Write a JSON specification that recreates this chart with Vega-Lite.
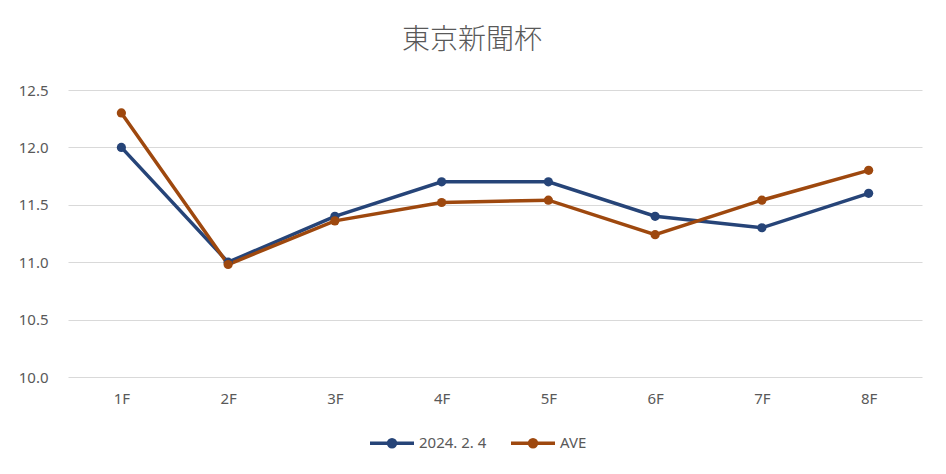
{
  "$schema": "https://vega.github.io/schema/vega-lite/v6.json",
  "width": 854,
  "height": 287,
  "autosize": {"type": "none"},
  "padding": {"left": 68, "top": 90, "right": 24, "bottom": 97},
  "background": "white",
  "title": {
    "text": "東京新聞杯",
    "font": "Noto Sans CJK JP",
    "fontSize": 28,
    "fontWeight": 300,
    "color": "#595959",
    "anchor": "middle",
    "dx": -23,
    "offset": 28
  },
  "config": {
    "view": {"stroke": null},
    "font": "Noto Sans"
  },
  "data": {
    "values": [
      {"race": "1F", "series": "2024. 2. 4", "time": 12.0},
      {"race": "2F", "series": "2024. 2. 4", "time": 11.0},
      {"race": "3F", "series": "2024. 2. 4", "time": 11.4},
      {"race": "4F", "series": "2024. 2. 4", "time": 11.7},
      {"race": "5F", "series": "2024. 2. 4", "time": 11.7},
      {"race": "6F", "series": "2024. 2. 4", "time": 11.4},
      {"race": "7F", "series": "2024. 2. 4", "time": 11.3},
      {"race": "8F", "series": "2024. 2. 4", "time": 11.6},
      {"race": "1F", "series": "AVE", "time": 12.3},
      {"race": "2F", "series": "AVE", "time": 10.98},
      {"race": "3F", "series": "AVE", "time": 11.36},
      {"race": "4F", "series": "AVE", "time": 11.52},
      {"race": "5F", "series": "AVE", "time": 11.54},
      {"race": "6F", "series": "AVE", "time": 11.24},
      {"race": "7F", "series": "AVE", "time": 11.54},
      {"race": "8F", "series": "AVE", "time": 11.8}
    ]
  },
  "encoding": {
    "x": {
      "field": "race",
      "type": "nominal",
      "sort": ["1F", "2F", "3F", "4F", "5F", "6F", "7F", "8F"],
      "scale": {"padding": 0.5},
      "axis": {
        "title": null,
        "labelAngle": 0,
        "domain": false,
        "ticks": false,
        "labelPadding": 14,
        "labelFontSize": 15,
        "labelColor": "#595959",
        "labelFont": "Noto Sans"
      }
    },
    "y": {
      "field": "time",
      "type": "quantitative",
      "scale": {"domain": [10, 12.5], "nice": false, "zero": false},
      "axis": {
        "title": null,
        "values": [10, 10.5, 11, 11.5, 12, 12.5],
        "format": ".1f",
        "domain": false,
        "ticks": false,
        "grid": true,
        "gridColor": "#d9d9d9",
        "gridWidth": 1,
        "labelPadding": 20,
        "labelFontSize": 15,
        "labelColor": "#595959",
        "labelFont": "Noto Sans"
      }
    },
    "color": {
      "field": "series",
      "type": "nominal",
      "scale": {"domain": ["2024. 2. 4", "AVE"], "range": ["#264478", "#9E480E"]},
      "legend": {
        "title": null,
        "orient": "none",
        "direction": "horizontal",
        "legendX": 300,
        "legendY": 329,
        "symbolType": "M-1,0L1,0M-0.16,0A0.16,0.16,0,1,1,0.16,0A0.16,0.16,0,1,1,-0.16,0Z",
        "symbolSize": 1936,
        "symbolStrokeWidth": 3.5,
        "labelFontSize": 15,
        "labelColor": "#595959",
        "labelFont": "Noto Sans",
        "labelOffset": 3,
        "columnPadding": 17
      }
    }
  },
  "layer": [
    {"mark": {"type": "line", "strokeWidth": 3.5}},
    {"mark": {"type": "point", "filled": true, "size": 85, "opacity": 1}}
  ]
}
